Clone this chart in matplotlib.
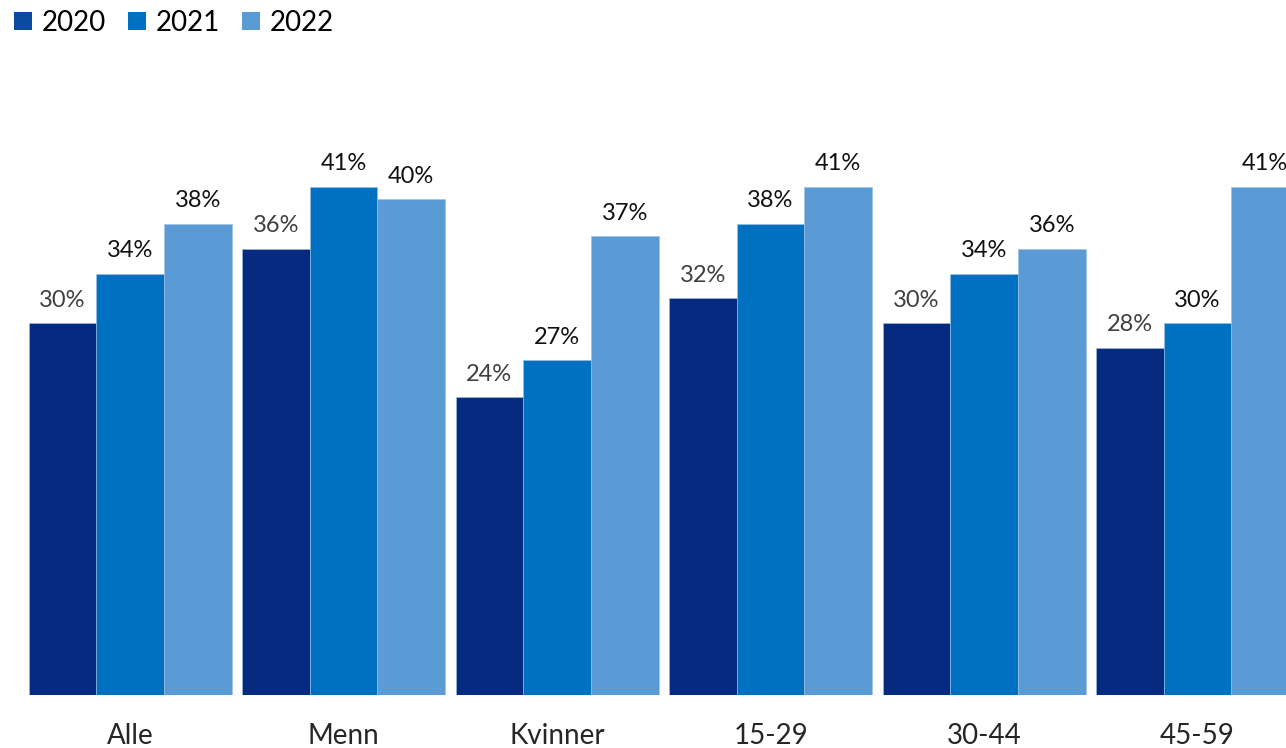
import numpy as np
import matplotlib.pyplot as plt
from matplotlib.patches import Patch

plt.rcParams['font.family'] = ['Lato', 'DejaVu Sans']

# andel per gruppe og år (%)
categories = ['Alle', 'Menn', 'Kvinner', '15-29', '30-44', '45-59']
years = ['2020', '2021', '2022']
v2020 = [30, 36, 24, 32, 30, 28]
v2021 = [34, 41, 27, 38, 34, 30]
v2022 = [38, 40, 37, 41, 36, 41]

bar_colors = ['#052a80', '#0070c0', '#5b9bd5']
legend_colors = ['#0a4ba0', '#0070c0', '#5b9bd5']
label_colors = ['#404040', '#111111', '#111111']

fig = plt.figure(figsize=(12.86, 7.48), dpi=100)
ax = fig.add_axes([0.0, 53 / 748, 1.0, 1 - 53 / 748 - 100 / 748])

x = np.arange(len(categories))
w = 0.317
series = [v2020, v2021, v2022]
for i, (vals, col) in enumerate(zip(series, bar_colors)):
    pos = x + (i - 1) * w
    bars = ax.bar(pos, vals, width=w, color=col, edgecolor='#9cc3e6',
                  linewidth=0.4)
    for b, v in zip(bars, vals):
        ax.annotate(f'{v}%', (b.get_x() + b.get_width() / 2, v),
                    xytext=(0, 9), textcoords='offset points',
                    ha='center', va='bottom', fontsize=17,
                    color=label_colors[i], annotation_clip=False)

ax.set_xlim(-0.609, 5.414)
ax.set_ylim(0, 48)
ax.set_xticks(x)
ax.set_xticklabels(categories, fontsize=20, color='#262626')
ax.tick_params(axis='x', length=0, pad=20)
ax.set_yticks([])
for s in ax.spines.values():
    s.set_visible(False)

handles = [Patch(facecolor=c, label=y) for c, y in zip(legend_colors, years)]
fig.legend(handles=handles, loc='upper left', bbox_to_anchor=(0.003, 1.0),
           ncol=3, frameon=False, fontsize=20, handlelength=0.65,
           handleheight=0.65, handletextpad=0.35, columnspacing=0.8,
           borderaxespad=0.2, borderpad=0.15)

fig.savefig('out.png', dpi=100)
